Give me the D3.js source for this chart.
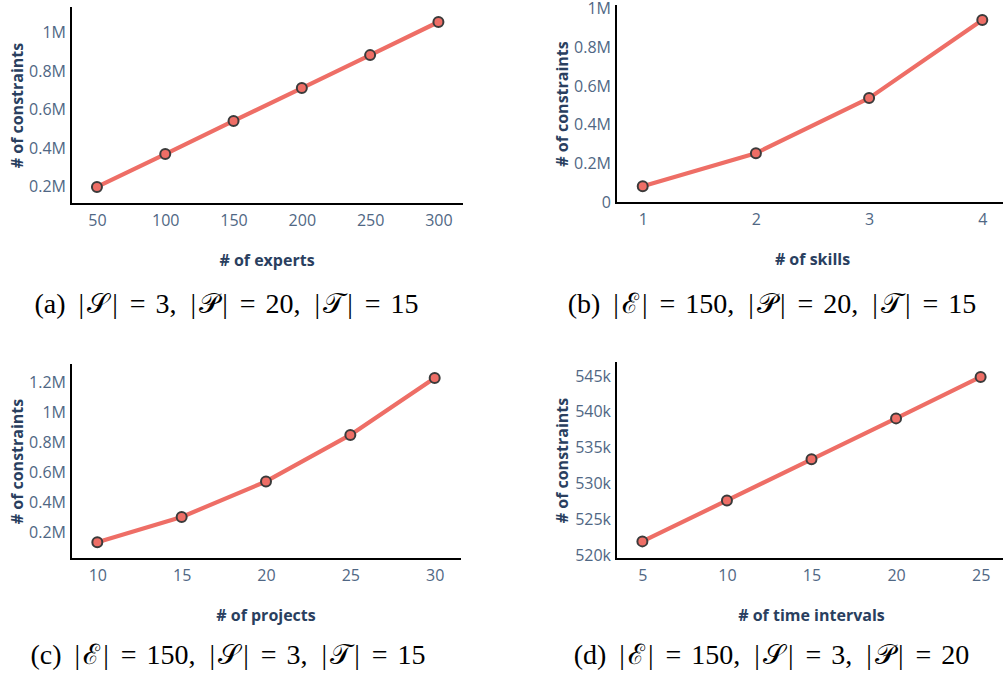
<!DOCTYPE html>
<html><head><meta charset="utf-8">
<script src="https://cdn.jsdelivr.net/npm/d3@7"></script>
<style>
html,body{margin:0;padding:0;background:#fff;}
svg{display:block;}
</style></head>
<body>
<script>
// ---- data ----
const expertsX = [50, 100, 150, 200, 250, 300];
const expertsY = [195000, 366000, 538000, 709000, 880000, 1052000];
const skillsX = [1, 2, 3, 4];
const skillsY = [78000, 249000, 534000, 938000];
const projectsX = [10, 15, 20, 25, 30];
const projectsY = [131000, 300000, 537000, 847000, 1227000];
const intervalsX = [5, 10, 15, 20, 25];
const intervalsY = [521810, 527520, 533270, 538980, 544760];

const ticksXA = [50, 100, 150, 200, 250, 300];
const ticksYA = [200000, 400000, 600000, 800000, 1000000];
const labelsYA = ["0.2M", "0.4M", "0.6M", "0.8M", "1M"];
const ticksXB = [1, 2, 3, 4];
const ticksYB = [0, 200000, 400000, 600000, 800000, 1000000];
const labelsYB = ["0", "0.2M", "0.4M", "0.6M", "0.8M", "1M"];
const ticksXC = [10, 15, 20, 25, 30];
const ticksYC = [200000, 400000, 600000, 800000, 1000000, 1200000];
const labelsYC = ["0.2M", "0.4M", "0.6M", "0.8M", "1M", "1.2M"];
const ticksXD = [5, 10, 15, 20, 25];
const ticksYD = [520000, 525000, 530000, 535000, 540000, 545000];
const labelsYD = ["520k", "525k", "530k", "535k", "540k", "545k"];

const xTitles = ["# of experts", "# of skills", "# of projects", "# of time intervals"];
const yTitle = "# of constraints";
const captionTags = ["(a)", "(b)", "(c)", "(d)"];
const captionSets = [["𝒮", "𝒫", "𝒯"], ["ℰ", "𝒫", "𝒯"], ["ℰ", "𝒮", "𝒯"], ["ℰ", "𝒮", "𝒫"]];
const captionVals = [["3", "20", "15"], ["150", "20", "15"], ["150", "3", "15"], ["150", "3", "20"]];

// ---- layout ----
const W = 1003, H = 677;
const svg = d3.select("body").append("svg").attr("width", W).attr("height", H)
  .style("background", "#fff");

const LINE = "#ee6e66", STROKE = "#3b3b3b";
const TICKC = "#506784", TITLEC = "#2a3f5f";

const panels = [
  {xs: expertsX, ys: expertsY, xd: [31, 318], yd: [106500, 1130000], l: 71, r: 463, t: 7, b: 204,
   tx: ticksXA, ty: ticksYA, ly: labelsYA, cap: 226.5, capY: 313},
  {xs: skillsX, ys: skillsY, xd: [0.764, 4.236], yd: [-9000, 1016000], l: 616, r: 1009, t: 5, b: 203,
   tx: ticksXB, ty: ticksYB, ly: labelsYB, cap: 772, capY: 313},
  {xs: projectsX, ys: projectsY, xd: [8.44, 31.56], yd: [20000, 1320000], l: 71, r: 461, t: 364, b: 559,
   tx: ticksXC, ty: ticksYC, ly: labelsYC, cap: 228, capY: 664},
  {xs: intervalsX, ys: intervalsY, xd: [3.44, 26.56], yd: [519350, 546850], l: 616, r: 1007, t: 362, b: 559,
   tx: ticksXD, ty: ticksYD, ly: labelsYD, cap: 771.5, capY: 664}
];

panels.forEach((p, i) => {
  const g = svg.append("g");
  const x = d3.scaleLinear().domain(p.xd).range([p.l, p.r]);
  const y = d3.scaleLinear().domain(p.yd).range([p.b, p.t]);

  const xa = g.append("g").attr("transform", `translate(0,${p.b})`)
    .call(d3.axisBottom(x).tickValues(p.tx).tickSize(0).tickPadding(0).tickFormat(d3.format("d")));
  xa.select(".domain").remove();
  xa.selectAll("text").attr("y", 22).attr("dy", 0)
    .attr("font-family", "'Open Sans', sans-serif").attr("font-size", 16).attr("fill", TICKC);

  const ya = g.append("g").attr("transform", `translate(${p.l},0)`)
    .call(d3.axisLeft(y).tickValues(p.ty).tickSize(0).tickPadding(0).tickFormat((d, k) => p.ly[k]));
  ya.select(".domain").remove();
  ya.selectAll("text").attr("x", -5).attr("dy", "0.36em")
    .attr("font-family", "'Open Sans', sans-serif").attr("font-size", 16).attr("fill", TICKC);

  g.append("line").attr("x1", p.l).attr("x2", p.l).attr("y1", p.t).attr("y2", p.b + 1)
    .attr("stroke", "#000").attr("stroke-width", 2);
  g.append("line").attr("x1", p.l - 1).attr("x2", p.r).attr("y1", p.b).attr("y2", p.b)
    .attr("stroke", "#000").attr("stroke-width", 2);

  const data = p.xs.map((v, k) => [v, p.ys[k]]);
  g.append("path").datum(data)
    .attr("d", d3.line().x(d => x(d[0])).y(d => y(d[1])))
    .attr("fill", "none").attr("stroke", LINE).attr("stroke-width", 4.2).attr("stroke-linejoin", "round");
  g.selectAll("circle.m").data(data).join("circle").attr("class", "m")
    .attr("cx", d => x(d[0])).attr("cy", d => y(d[1])).attr("r", 5)
    .attr("fill", LINE).attr("stroke", STROKE).attr("stroke-width", 2);

  const cx = (p.l + p.r) / 2, cy = (p.t + p.b) / 2;
  g.append("text").attr("x", cx).attr("y", p.b + 62).attr("text-anchor", "middle")
    .attr("font-family", "'Open Sans', sans-serif").attr("font-weight", "bold").attr("font-size", 16)
    .attr("fill", TITLEC).text(xTitles[i]);
  g.append("text").attr("transform", `translate(${p.l - 48},${cy}) rotate(-90)`)
    .attr("text-anchor", "middle")
    .attr("font-family", "'Open Sans', sans-serif").attr("font-weight", "bold").attr("font-size", 16)
    .attr("fill", TITLEC).text(yTitle);

  // caption: math-like spacing built from segments
  const t = svg.append("text").attr("x", p.cap).attr("y", p.capY).attr("text-anchor", "middle")
    .attr("font-family", "'Liberation Serif', 'DejaVu Serif', serif").attr("font-size", 28).attr("fill", "#000");
  const segs = [[captionTags[i], 0]];
  for (let k = 0; k < 3; k++) {
    segs.push(["|", k === 0 ? 13 : 14]);
    segs.push([captionSets[i][k], 3]);
    segs.push(["|", 3]);
    segs.push(["=", 12]);
    segs.push([captionVals[i][k] + (k < 2 ? "," : ""), 10]);
  }
  segs.forEach(([s, dx]) => t.append("tspan").attr("dx", dx).text(s));
});
</script>
</body></html>
